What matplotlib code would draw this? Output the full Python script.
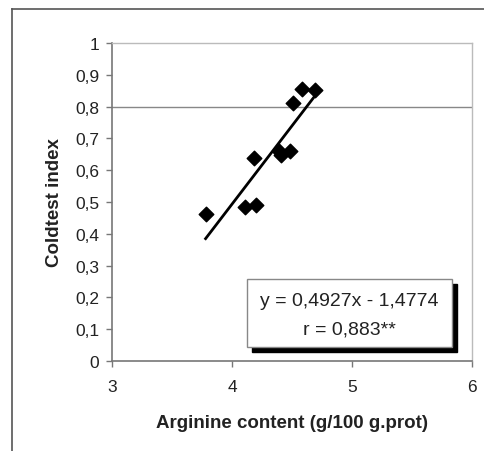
import matplotlib as mpl
mpl.use("Agg")
import numpy as np
import matplotlib.pyplot as plt
from matplotlib.lines import Line2D
from matplotlib.patches import Rectangle

plt.rcParams['font.family'] = ['Liberation Sans', 'DejaVu Sans']

# data
arginine = [3.78, 4.11, 4.20, 4.18, 4.39, 4.41, 4.48, 4.51, 4.58, 4.69]
coldtest = [0.461, 0.483, 0.490, 0.640, 0.660, 0.649, 0.660, 0.813, 0.857, 0.852]
slope, intercept = 0.4927, -1.4774
x_ticks = [3, 4, 5, 6]
y_ticks = [0, 0.1, 0.2, 0.3, 0.4, 0.5, 0.6, 0.7, 0.8, 0.9, 1]
y_labels = ['0', '0,1', '0,2', '0,3', '0,4', '0,5', '0,6', '0,7', '0,8', '0,9', '1']

fig = plt.figure(figsize=(4.85, 4.52), dpi=100)
ax = fig.add_axes([0.2309, 0.199, 0.7423, 0.7035])

# outer frame of the original figure (left and top visible)
fig.add_artist(Line2D([12/485, 12/485], [0, 1 - 10/452], transform=fig.transFigure,
                      color='#555555', lw=1.2))
fig.add_artist(Line2D([12/485, 1], [1 - 10/452, 1 - 10/452], transform=fig.transFigure,
                      color='#555555', lw=1.2))

ax.scatter(arginine, coldtest, marker='D', s=55, color='black', zorder=3)

xfit = np.array([min(arginine), max(arginine)])
ax.plot(xfit, slope * xfit + intercept, color='black', lw=2, zorder=2)

ax.axhline(0.8, color='#888888', lw=1, zorder=1)

ax.set_xlim(3, 6)
ax.set_ylim(0, 1)
ax.set_xticks(x_ticks)
ax.set_xticklabels([str(v) for v in x_ticks])
ax.set_yticks(y_ticks)
ax.set_yticklabels(y_labels)
ax.tick_params(axis='both', labelsize=12.5, colors='#222222', direction='out',
               length=4, width=1)
ax.tick_params(axis='x', pad=9, color='#777777')
ax.tick_params(axis='y', pad=5, color='#777777')

for side in ['left', 'bottom']:
    ax.spines[side].set_color('#777777')
    ax.spines[side].set_linewidth(1.2)
for side in ['top', 'right']:
    ax.spines[side].set_color('#bbbbbb')
    ax.spines[side].set_linewidth(1)

ax.set_xlabel('Arginine content (g/100 g.prot)', fontsize=13.5, fontweight='bold',
              labelpad=14, color='#222222')
ax.set_ylabel('Coldtest index', fontsize=13.5, fontweight='bold', labelpad=9,
              color='#222222')

# equation box with shadow
bx0, bx1, by0, by1 = 4.125, 5.833, 0.044, 0.258
ax.add_patch(Rectangle((bx0 + 0.045, by0 - 0.017), bx1 - bx0, by1 - by0,
                       facecolor='black', edgecolor='black', zorder=4))
ax.add_patch(Rectangle((bx0, by0), bx1 - bx0, by1 - by0,
                       facecolor='white', edgecolor='#888888', lw=1, zorder=5))
ax.text((bx0 + bx1) / 2, 0.19, 'y = 0,4927x - 1,4774', ha='center', va='center',
        fontsize=14, color='#222222', zorder=6)
ax.text((bx0 + bx1) / 2, 0.10, 'r = 0,883**', ha='center', va='center',
        fontsize=14, color='#222222', zorder=6)

fig.savefig('out.png', dpi=100)
